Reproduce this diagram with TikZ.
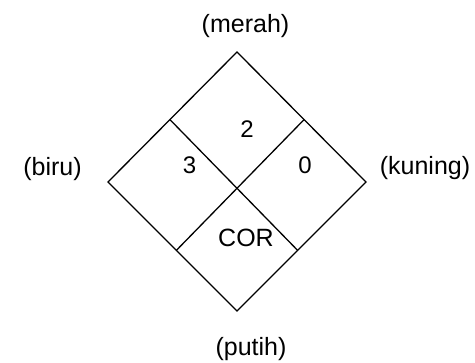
\documentclass[tikz,border=0pt]{standalone}
\usepackage{fontspec}
\setmainfont{Liberation Sans}
\usetikzlibrary{calc}
\begin{document}
\begin{tikzpicture}[x=1pt,y=-1pt,
  edge/.style={draw=black,line width=1.3pt,line join=miter},
  lbl/.style={font=\fontsize{25}{30}\selectfont,inner sep=0pt},
  num/.style={font=\fontsize{24}{29}\selectfont,inner sep=0pt}]
\useasboundingbox (0,0) rectangle (475,363);
% outer diamond corners
\coordinate (T) at (237,52);
\coordinate (L) at (108,182);
\coordinate (R) at (366,182);
\coordinate (B) at (237,311);
% ends of the two dividing lines, on the sides
\coordinate (TL) at ($(T)!0.52!(L)$);
\coordinate (TR) at ($(T)!0.52!(R)$);
\coordinate (BL) at ($(L)!0.53!(B)$);
\coordinate (BR) at ($(R)!0.53!(B)$);
\draw[edge] (T) -- (R) -- (B) -- (L) -- cycle;
\draw[edge] (TL) -- (BR);
\draw[edge] (TR) -- (BL);
% numbers in the fields
\node[num] (n2) at (247,129.5) {2};
\node[num] (n3) at (189.5,165.5) {3};
\node[num] (n0) at (305,165.5) {0};
\node[lbl] (cor) at (246,238) {COR};
% colour names around the diamond
\node[lbl] (merah) at (245.5,26) {(merah)};
\node[lbl] (biru) at (52.5,169) {(biru)};
\node[lbl] (kuning) at (425,168.5) {(kuning)};
\node[lbl] (putih) at (251,349) {(putih)};
\end{tikzpicture}
\end{document}
